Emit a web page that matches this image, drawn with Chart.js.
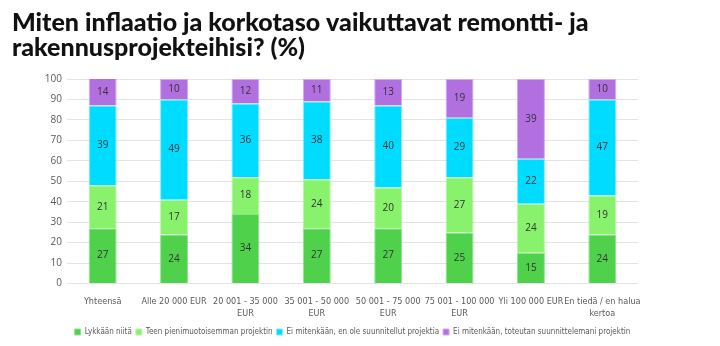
<!DOCTYPE html>
<html>
<head>
<meta charset="utf-8">
<script src="https://cdn.jsdelivr.net/npm/chart.js@4"></script>
<style>
  html, body { margin: 0; padding: 0; background: #fff; }
  #wrap { width: 720px; height: 346px; position: relative; }
</style>
</head>
<body>
<div id="wrap"><canvas id="chart" width="720" height="346"></canvas></div>
<script>
// categories (x axis), multi-line where the label wraps
const categories = [
    'Yhteensä',
    'Alle 20 000 EUR',
    ['20 001 - 35 000', 'EUR'],
    ['35 001 - 50 000', 'EUR'],
    ['50 001 - 75 000', 'EUR'],
    ['75 001 - 100 000', 'EUR'],
    'Yli 100 000 EUR',
    ['En tiedä / en halua', 'kertoa']
];

const seriesNames = [
    'Lykkään niitä',
    'Teen pienimuotoisemman projektin',
    'Ei mitenkään, en ole suunnitellut projektia',
    'Ei mitenkään, toteutan suunnittelemani projektin'
];

const postpone = [27, 24, 34, 27, 27, 25, 15, 24];
const smaller = [21, 17, 18, 24, 20, 27, 24, 19];
const notPlanned = [39, 49, 36, 38, 40, 29, 22, 47];
const goAhead = [14, 10, 12, 11, 13, 19, 39, 10];

const yTicks = [0, 10, 20, 30, 40, 50, 60, 70, 80, 90, 100];

const colors = ['#4fd14b', '#88f26c', '#00dcff', '#b26fe0'];
const borders = ['#8be68a', '#b5f7a5', '#7eeeff', '#d2a9ef'];

const narrow = '"DejaVu Sans Condensed", Roboto, sans-serif';

// draws the value in the middle of each stacked segment
const segmentLabels = {
    id: 'segmentLabels',
    afterDatasetsDraw(chart) {
        const ctx = chart.ctx;
        ctx.save();
        ctx.font = '10px "Open Sans", sans-serif';
        ctx.fillStyle = '#333';
        ctx.textAlign = 'center';
        ctx.textBaseline = 'middle';
        chart.data.datasets.forEach((ds, i) => {
            const meta = chart.getDatasetMeta(i);
            meta.data.forEach((bar, j) => {
                const top = Math.max(bar.y, chart.chartArea.top);
                const mid = (top + bar.base) / 2;
                ctx.fillText(ds.data[j], bar.x, mid);
            });
        });
        ctx.restore();
    }
};

// centre the legend under the plot area rather than the whole canvas
const legendUnderPlot = {
    id: 'legendUnderPlot',
    afterLayout(chart) {
        const lg = chart.legend;
        if (!lg) return;
        const shift = (chart.chartArea.left + chart.chartArea.right) / 2 - (lg.left + lg.right) / 2;
        lg.left += shift;
        lg.right += shift;
    }
};

const allSeries = [postpone, smaller, notPlanned, goAhead];

new Chart(document.getElementById('chart'), {
    type: 'bar',
    data: {
        labels: categories,
        datasets: allSeries.map((values, i) => ({
            label: seriesNames[i],
            data: values,
            backgroundColor: colors[i],
            borderColor: borders[i],
            borderWidth: 1,
            barPercentage: 0.8,
            categoryPercentage: 0.49
        }))
    },
    options: {
        responsive: false,
        animation: false,
        layout: {
            padding: { left: 12, right: 82, top: 2, bottom: 0 }
        },
        plugins: {
            title: {
                display: true,
                text: ['Miten inflaatio ja korkotaso vaikuttavat remontti- ja', 'rakennusprojekteihisi? (%)'],
                align: 'start',
                color: '#111',
                font: { family: 'Lato', size: 25, weight: '900', lineHeight: 1.0 },
                padding: { top: 8, bottom: 19 },
                fullSize: true
            },
            legend: {
                position: 'bottom',
                align: 'center',
                labels: {
                    boxWidth: 6,
                    boxHeight: 6,
                    padding: 4,
                    color: '#595959',
                    font: { family: narrow, size: 8 }
                }
            },
            tooltip: { enabled: false }
        },
        scales: {
            x: {
                stacked: true,
                grid: { display: false },
                border: { display: false },
                ticks: {
                    color: '#595959',
                    padding: 5,
                    font: { family: narrow, size: 9, lineHeight: 1.25 },
                    maxRotation: 0,
                    autoSkip: false
                }
            },
            y: {
                stacked: true,
                min: 0,
                max: 100,
                afterBuildTicks(axis) {
                    axis.ticks = yTicks.map(v => ({ value: v }));
                },
                afterFit(axis) {
                    axis.width = 55;
                },
                grid: { color: '#e3e3e3', drawTicks: false },
                border: { display: false },
                ticks: {
                    color: '#595959',
                    padding: 5,
                    font: { family: 'Open Sans', size: 10 }
                }
            }
        }
    },
    plugins: [segmentLabels, legendUnderPlot]
});
</script>
</body>
</html>
